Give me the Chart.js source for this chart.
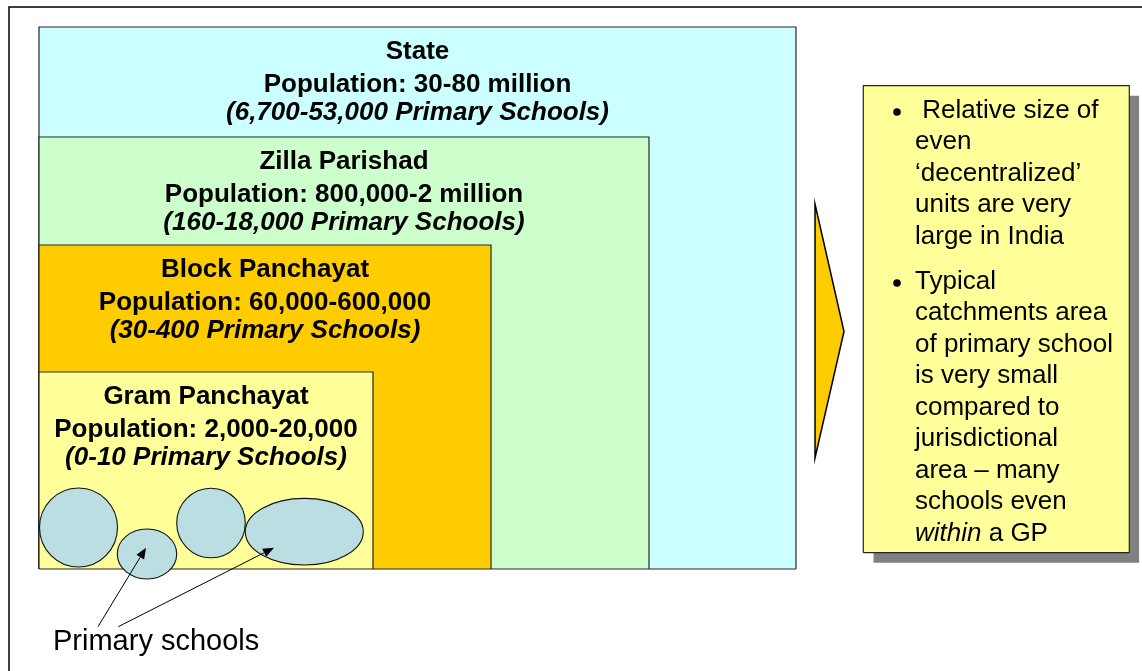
<!DOCTYPE html>
<html>
<head>
<meta charset="utf-8">
<script src="https://cdn.jsdelivr.net/npm/chart.js@4.4.1/dist/chart.umd.min.js"></script>
<style>
  html, body { margin: 0; padding: 0; background: #ffffff; }
  #wrap { width: 1142px; height: 671px; position: relative; }
</style>
</head>
<body>
<div id="wrap"><canvas id="c"></canvas></div>
<script>
// Administrative tiers, nested from the largest unit down to the smallest
const tiers = ['State', 'Zilla Parishad', 'Block Panchayat', 'Gram Panchayat'];
const populations = [
  'Population: 30-80 million',
  'Population: 800,000-2 million',
  'Population: 60,000-600,000',
  'Population: 2,000-20,000'
];
const schoolCounts = [
  '(6,700-53,000 Primary Schools)',
  '(160-18,000 Primary Schools)',
  '(30-400 Primary Schools)',
  '(0-10 Primary Schools)'
];
// Extent of each tier in diagram units, all sharing the bottom-left corner
const tierWidths = [757, 610, 452, 334];
const tierHeights = [542, 432, 324, 197];

// School catchments inside one Gram Panchayat (centre and radii, diagram units)
const schoolCx = [39.5, 108, 172, 265.3];
const schoolCy = [41.5, 15, 46, 37.3];
const schoolRx = [39, 29.7, 34.3, 59];
const schoolRy = [39.5, 25, 34.7, 33.3];
const schoolLabel = 'Primary schools';

// Side notes; text between underscores is set in italics
const noteOne = [' Relative size of', 'even', '\u2018decentralized\u2019', 'units are very', 'large in India'];
const noteTwo = ['Typical', 'catchments area', 'of primary school', 'is very small', 'compared to',
                 'jurisdictional', 'area \u2013 many', 'schools even', '_within_ a GP'];

// ---- styling ----
const tierFill = ['#CCFFFF', '#CCFFCC', '#FFCC00', '#FFFF99'];
const edge = '#262626';
const FONT = '"Liberation Sans", Arial, Helvetica, sans-serif';

// open outline (left, top, right); the bottom edge is drawn separately
function boxOutline(x0, y0, x1, y1) {
  return [{x: x0, y: y0}, {x: x0, y: y1}, {x: x1, y: y1}, {x: x1, y: y0}];
}

const datasets = [];

// outer frame (top and left rules)
datasets.push({
  data: [{x: -30, y: -102}, {x: -30, y: 562}, {x: 1103, y: 562}],
  borderColor: '#000000', borderWidth: 1.5, fill: false, order: 20
});

// nested tier boxes: largest drawn first
tiers.forEach((t, i) => {
  datasets.push({
    label: t,
    data: boxOutline(0, 0, tierWidths[i], tierHeights[i]),
    backgroundColor: tierFill[i], borderColor: edge, borderWidth: 1.2,
    fill: {value: 0}, order: 10 - i
  });
});
// common floor of the tiers
datasets.push({
  data: [{x: 0, y: 0}, {x: tierWidths[0], y: 0}],
  borderColor: edge, borderWidth: 1.2, fill: false, order: 0
});

// note panel with drop shadow
const note = {x0: 824.3, x1: 1090.3, y0: 16.3, y1: 483.3};
datasets.push({
  data: boxOutline(note.x0 + 10, note.y0 - 10, note.x1 + 10, note.y1 - 10),
  backgroundColor: '#808080', borderColor: '#808080', borderWidth: 0,
  fill: {value: note.y0 - 10}, order: 6
});
datasets.push({
  data: boxOutline(note.x0, note.y0, note.x1, note.y1),
  backgroundColor: '#FFFF99', borderColor: edge, borderWidth: 1.2,
  fill: {value: note.y0}, order: 5
});
datasets.push({
  data: [{x: note.x0, y: note.y0}, {x: note.x1, y: note.y0}],
  borderColor: edge, borderWidth: 1.2, fill: false, order: 4
});

const overlay = {
  id: 'overlay',
  afterDatasetsDraw(chart) {
    const ctx = chart.ctx;
    const sx = chart.scales.x, sy = chart.scales.y;
    const px = v => sx.getPixelForValue(v);
    const py = v => sy.getPixelForValue(v);
    const unitX = Math.abs(px(1) - px(0)), unitY = Math.abs(py(1) - py(0));
    ctx.save();

    // school catchment ellipses
    schoolCx.forEach((cx, i) => {
      ctx.beginPath();
      ctx.ellipse(px(cx), py(schoolCy[i]), schoolRx[i] * unitX, schoolRy[i] * unitY, 0, 0, Math.PI * 2);
      ctx.fillStyle = '#BADEE1';
      ctx.fill();
      ctx.lineWidth = 1.1;
      ctx.strokeStyle = '#111111';
      ctx.stroke();
    });

    // tier captions
    ctx.fillStyle = '#000000';
    ctx.textAlign = 'center';
    ctx.textBaseline = 'alphabetic';
    tiers.forEach((t, i) => {
      const cx = px(tierWidths[i] / 2);
      const top = py(tierHeights[i]);
      ctx.font = 'bold 26px ' + FONT;
      ctx.fillText(t, cx, top + 32);
      ctx.fillText(populations[i], cx, top + 65);
      ctx.font = 'italic bold 26px ' + FONT;
      ctx.fillText(schoolCounts[i], cx, top + 92.5);
    });

    // wedge pointing at the notes
    ctx.beginPath();
    ctx.moveTo(px(776), py(365));
    ctx.lineTo(px(805), py(237.5));
    ctx.lineTo(px(776), py(111));
    ctx.closePath();
    ctx.fillStyle = '#FFCC00';
    ctx.fill();
    ctx.lineWidth = 1.5;
    ctx.strokeStyle = '#000000';
    ctx.stroke();

    // pointers from the label to two catchments
    const pointer = (x0, y0, x1, y1) => {
      const a = px(x0), b = py(y0), c = px(x1), d = py(y1);
      const ang = Math.atan2(d - b, c - a);
      const len = 11, hw = 4.5;
      const bx = c - len * Math.cos(ang), by = d - len * Math.sin(ang);
      ctx.beginPath();
      ctx.moveTo(a, b);
      ctx.lineTo(bx, by);
      ctx.strokeStyle = '#000000';
      ctx.lineWidth = 1;
      ctx.stroke();
      ctx.beginPath();
      ctx.moveTo(c, d);
      ctx.lineTo(bx + hw * Math.sin(ang), by - hw * Math.cos(ang));
      ctx.lineTo(bx - hw * Math.sin(ang), by + hw * Math.cos(ang));
      ctx.closePath();
      ctx.fillStyle = '#000000';
      ctx.fill();
    };
    pointer(59, -57.7, 107, 21.3);
    pointer(79.3, -57.7, 235, 21.3);

    ctx.textAlign = 'left';
    ctx.fillStyle = '#000000';
    ctx.font = '29px ' + FONT;
    ctx.fillText(schoolLabel, px(14), py(-81));

    // bullet notes
    const drawLine = (str, x, y) => {
      const parts = str.split('_');
      let cx = x;
      parts.forEach((p, k) => {
        ctx.font = (k % 2 ? 'italic ' : '') + '26px ' + FONT;
        ctx.fillText(p, cx, y);
        cx += ctx.measureText(p).width;
      });
    };
    const drawNote = (lines, firstBase) => {
      ctx.beginPath();
      ctx.arc(px(858), py(firstBase) - 5.5, 3.8, 0, Math.PI * 2);
      ctx.fill();
      lines.forEach((ln, k) => drawLine(ln, px(876), py(firstBase) + k * 31.5));
    };
    drawNote(noteOne, 451.5);
    drawNote(noteTwo, 280.5);

    ctx.restore();
  }
};

new Chart(document.getElementById('c'), {
  type: 'line',
  data: {datasets},
  options: {
    responsive: true,
    maintainAspectRatio: false,
    animation: false,
    events: [],
    layout: {padding: 0},
    elements: {point: {radius: 0}, line: {tension: 0}},
    datasets: {line: {clip: false}},
    scales: {
      x: {type: 'linear', min: -39, max: 1103, display: false},
      y: {type: 'linear', min: -102, max: 569, display: false}
    },
    plugins: {legend: {display: false}, tooltip: {enabled: false}, title: {display: false}}
  },
  plugins: [overlay]
});
</script>
</body>
</html>
